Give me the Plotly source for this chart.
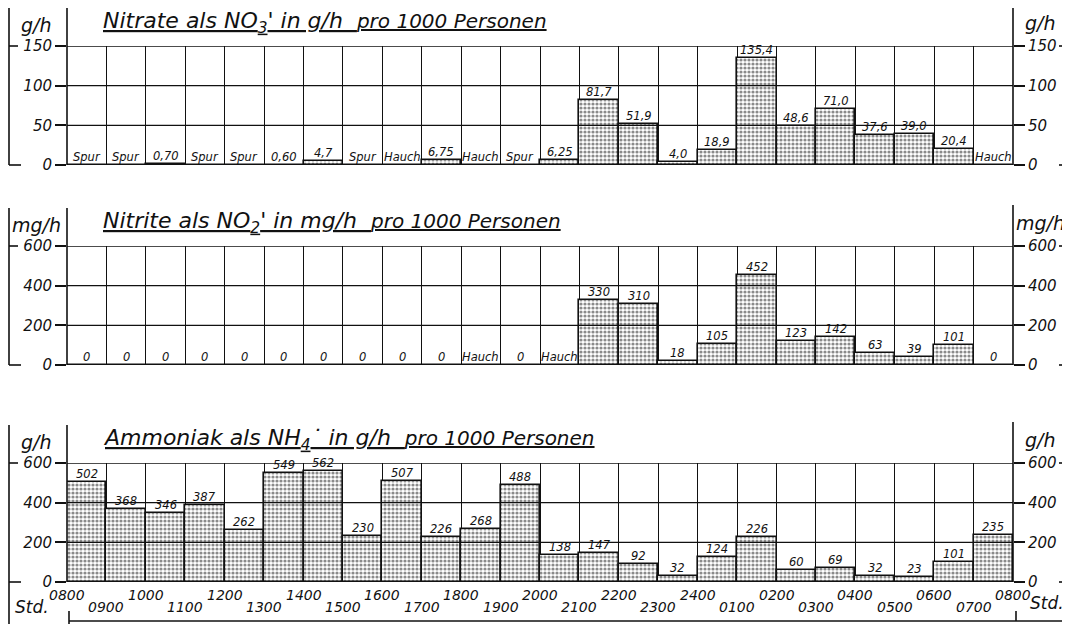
import plotly.graph_objects as go

# ---------------- data ----------------
hours = ["0800", "0900", "1000", "1100", "1200", "1300", "1400", "1500", "1600",
         "1700", "1800", "1900", "2000", "2100", "2200", "2300", "2400", "0100",
         "0200", "0300", "0400", "0500", "0600", "0700", "0800"]

nitrate_values = [0, 0, 0.70, 0, 0, 0.60, 4.7, 0, 0, 6.75, 0, 0, 6.25,
                  81.7, 51.9, 4.0, 18.9, 135.4, 48.6, 71.0, 37.6, 39.0, 20.4, 0]
nitrate_labels = ["Spur", "Spur", "0,70", "Spur", "Spur", "0,60", "4,7", "Spur",
                  "Hauch", "6,75", "Hauch", "Spur", "6,25", "81,7", "51,9", "4,0",
                  "18,9", "135,4", "48,6", "71,0", "37,6", "39,0", "20,4", "Hauch"]

nitrite_values = [0, 0, 0, 0, 0, 0, 0, 0, 0, 0, 0, 0, 0,
                  330, 310, 18, 105, 452, 123, 142, 63, 39, 101, 0]
nitrite_labels = ["0", "0", "0", "0", "0", "0", "0", "0", "0", "0", "Hauch", "0",
                  "Hauch", "330", "310", "18", "105", "452", "123", "142", "63",
                  "39", "101", "0"]

ammonia_values = [502, 368, 346, 387, 262, 549, 562, 230, 507, 226, 268, 488,
                  138, 147, 92, 32, 124, 226, 60, 69, 32, 23, 101, 235]
ammonia_labels = [str(v) for v in ammonia_values]

titles_main = ["Nitrate als NO<sub>3</sub>' in g/h",
               "Nitrite als NO<sub>2</sub>' in mg/h",
               "Ammoniak als NH<sub>4</sub>˙ in g/h"]
title_small = "pro 1000 Personen"
units = ["g/h", "mg/h", "g/h"]
ranges = [150, 600, 600]
tick_sets = [[0, 50, 100, 150], [0, 200, 400, 600], [0, 200, 400, 600]]

# ---------------- layout geometry (screen pixels) ----------------
W, H = 1070, 624
OFF = 8           # page body margin of the html page
X0, X1 = 67, 1013
XOUT = 9          # outer left frame line
panel_px = [(46, 165), (246, 365), (463, 582)]  # (max line, zero line)
FONT = "DejaVu Sans"


def px(x):
    return (x - OFF) / W


def py(y):
    return 1 - (y - OFF) / H


fig = go.Figure()
shapes = []
annotations = []
layout = {}

series = [(nitrate_values, nitrate_labels), (nitrite_values, nitrite_labels),
          (ammonia_values, ammonia_labels)]

BLACK = "#111111"
LW = 1.6

for i, ((vals, labs), (ptop, pzero)) in enumerate(zip(series, panel_px)):
    n = i + 1
    xa = "x" if n == 1 else f"x{n}"
    ya = "y" if n == 1 else f"y{n}"
    yr = f"y{n + 3}"
    xname = "xaxis" if n == 1 else f"xaxis{n}"
    yname = "yaxis" if n == 1 else f"yaxis{n}"
    yrname = f"yaxis{n + 3}"

    fig.add_trace(go.Bar(
        x=list(range(len(vals))), y=vals, width=1, xaxis=xa, yaxis=ya,
        marker=dict(color="white", line=dict(color=BLACK, width=LW),
                    pattern=dict(shape=".", fgcolor="#151515", bgcolor="white",
                                 size=4, solidity=0.5)),
        showlegend=False, hoverinfo="skip"))
    fig.add_trace(go.Scatter(x=[], y=[], xaxis=xa, yaxis=yr, showlegend=False,
                             hoverinfo="skip"))

    layout[xname] = dict(domain=[px(X0), px(X1)], range=[-0.5, len(vals) - 0.5],
                         anchor=ya, tickvals=[k - 0.5 for k in range(len(vals) + 1)],
                         showticklabels=False, ticks="", showgrid=True,
                         gridcolor=BLACK, gridwidth=1.3, zeroline=False,
                         showline=False, fixedrange=True, automargin=False)
    ydom = [py(pzero), py(ptop)]
    tickfont = dict(family=FONT, size=15, color=BLACK, style="italic")
    layout[yname] = dict(domain=ydom, range=[0, ranges[i]], anchor=xa,
                         tickvals=tick_sets[i], ticks="outside", ticklen=11,
                         tickwidth=LW, tickcolor=BLACK, tickfont=tickfont,
                         showgrid=False, zeroline=False, showline=False,
                         fixedrange=True, automargin=False)
    layout[yrname] = dict(domain=ydom, range=[0, ranges[i]], anchor=xa,
                          overlaying=ya, side="right",
                          tickvals=tick_sets[i], ticks="outside", ticklen=11,
                          tickwidth=LW, tickcolor=BLACK, tickfont=tickfont,
                          showgrid=False, zeroline=False, showline=False,
                          fixedrange=True, automargin=False)

    # horizontal grid lines drawn over the stippled bars
    for t in tick_sets[i][1:]:
        shapes.append(dict(type="line", xref=f"{xa} domain", yref=ya, x0=0, x1=1,
                           y0=t, y1=t, layer="above",
                           line=dict(color=BLACK, width=1.4)))
    # base line
    shapes.append(dict(type="line", xref=f"{xa} domain", yref=ya, x0=0, x1=1,
                       y0=0, y1=0, layer="above", line=dict(color=BLACK, width=2)))

    ext = ptop - 38
    # left plot edge, extended upwards
    shapes.append(dict(type="line", xref="paper", yref="paper", x0=px(X0), x1=px(X0),
                       y0=py(ext), y1=py(pzero), line=dict(color=BLACK, width=LW)))
    # right plot edge, extended upwards
    shapes.append(dict(type="line", xref="paper", yref="paper", x0=px(X1), x1=px(X1),
                       y0=py(ext - 3), y1=py(pzero), line=dict(color=BLACK, width=LW)))
    # outer left frame line
    bottom_outer = H + OFF if n == 3 else pzero
    shapes.append(dict(type="line", xref="paper", yref="paper", x0=px(XOUT), x1=px(XOUT),
                       y0=py(ext), y1=py(bottom_outer), line=dict(color=BLACK, width=LW)))
    # stub into the 0 label and dash before the top label
    shapes.append(dict(type="line", xref="paper", yref="paper", x0=px(XOUT), x1=px(21),
                       y0=py(pzero), y1=py(pzero), line=dict(color=BLACK, width=LW)))
    shapes.append(dict(type="line", xref="paper", yref="paper", x0=px(XOUT), x1=px(18),
                       y0=py(ptop), y1=py(ptop), line=dict(color=BLACK, width=LW)))
    # dashes after right labels
    for yy in (ptop, pzero):
        shapes.append(dict(type="line", xref="paper", yref="paper", x0=px(1059),
                           x1=px(1070), y0=py(yy), y1=py(yy),
                           line=dict(color=BLACK, width=LW)))

    # unit labels
    annotations.append(dict(text=units[i], xref="paper", yref="paper",
                            x=px(36), y=py(ptop - 21), xanchor="center",
                            yanchor="middle", showarrow=False,
                            font=dict(family=FONT, size=19, color=BLACK, style="italic")))
    annotations.append(dict(text=units[i], xref="paper", yref="paper",
                            x=px(1040), y=py(ptop - 23), xanchor="center",
                            yanchor="middle", showarrow=False,
                            font=dict(family=FONT, size=19, color=BLACK, style="italic")))

    # underlined title
    annotations.append(dict(
        text=titles_main[i] + "\u00a0\u00a0<span style='font-size:20px'>" + title_small + "</span>",
        xref="paper", yref="paper", x=px(101), y=py(ptop - 24), xanchor="left",
        yanchor="middle", showarrow=False,
        font=dict(family=FONT, size=22, color=BLACK, style="italic",
                  lineposition="under")))

    # bar value labels
    for k, (v, lab) in enumerate(zip(vals, labs)):
        annotations.append(dict(text=lab, xref=xa, yref=ya, x=k, y=v,
                                xanchor="center", yanchor="bottom", yshift=-1,
                                showarrow=False,
                                font=dict(family=FONT, size=11.5, color=BLACK,
                                          style="italic")))

# hour labels along the bottom panel
for k, h in enumerate(hours):
    annotations.append(dict(text=h, xref="x3", yref="paper", x=k - 0.5,
                            y=py(595 if k % 2 == 0 else 607), xanchor="center",
                            yanchor="middle", showarrow=False,
                            font=dict(family=FONT, size=14, color=BLACK, style="italic")))
annotations.append(dict(text="Std.", xref="paper", yref="paper", x=px(32), y=py(607),
                        xanchor="center", yanchor="middle", showarrow=False,
                        font=dict(family=FONT, size=17, color=BLACK, style="italic")))
annotations.append(dict(text="Std.", xref="paper", yref="paper", x=px(1047), y=py(603),
                        xanchor="center", yanchor="middle", showarrow=False,
                        font=dict(family=FONT, size=17, color=BLACK, style="italic")))

# bottom frame pieces
shapes.append(dict(type="line", xref="paper", yref="paper", x0=px(69), x1=px(69),
                   y0=py(611), y1=py(624), line=dict(color=BLACK, width=LW)))
shapes.append(dict(type="line", xref="paper", yref="paper", x0=px(1016), x1=px(1016),
                   y0=py(611), y1=py(621), line=dict(color=BLACK, width=LW)))
shapes.append(dict(type="line", xref="paper", yref="paper", x0=px(69), x1=px(1070),
                   y0=py(621), y1=py(621), line=dict(color=BLACK, width=LW)))

fig.update_layout(
    width=W, height=H, margin=dict(l=0, r=0, t=0, b=0, autoexpand=False),
    paper_bgcolor="white", plot_bgcolor="white",
    font=dict(family=FONT, color=BLACK, style="italic"),
    showlegend=False, bargap=0, barmode="overlay",
    shapes=shapes, annotations=annotations, **layout)

fig.write_html("out.html")
